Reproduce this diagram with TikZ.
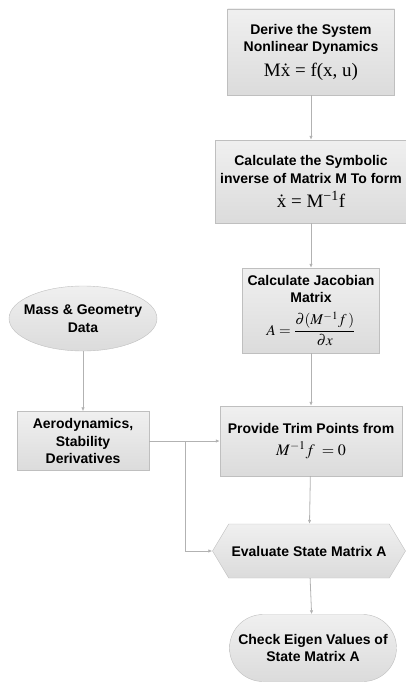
\documentclass[tikz,border=0pt]{standalone}
\usepackage{mathptmx}
\usepackage[no-math]{fontspec}
\setmainfont{Liberation Sans}
\newfontfamily\eqfont{Liberation Serif}
\usetikzlibrary{arrows.meta,shapes.geometric,shapes.misc,shapes.symbols}

\begin{document}
\begin{tikzpicture}[x = 1pt, y = 1pt,
		box/.style = {draw=gray!50, top color=gray!12, bottom color=gray!28, align=center,
			inner sep=0pt, font=\fontsize{14}{17.5}\selectfont\bfseries},
		eq/.style = {font=\eqfont\mdseries\fontsize{19}{19}\selectfont},
		flow/.style = {draw=gray!60, line width=.8pt, -{Latex[length=4pt,width=3.5pt]}}]
		\useasboundingbox (0,0) rectangle (406,-682);
		% right column
		\node [box, minimum width=167, minimum height=86] (derive) at (311,-52)
			{Derive the System\\Nonlinear Dynamics\\[7pt]
			{\eqfont\mdseries\fontsize{19}{19}\selectfont Mẋ = f(x, u)}};
		\node [box, minimum width=192, minimum height=83] (symb) at (311,-181.5)
			{Calculate the Symbolic\\inverse of Matrix M To form\\[7pt]
			{\eqfont\mdseries\fontsize{19}{19}\selectfont ẋ = M\textsuperscript{−1}f}};
		\node [box, minimum width=137, minimum height=85] (jac) at (311,-310.5)
			{Calculate Jacobian\\Matrix\\[8pt]
			{\fontsize{15}{15}\selectfont$\displaystyle A = \frac{\partial(M^{-1}f\,)}{\partial x}$}};
		\node [box, minimum width=182, minimum height=70] (trim) at (311,-441)
			{Provide Trim Points from\\[5pt]
			{\fontsize{16}{16}\selectfont$M^{-1}f\; = 0$}};
		\node [box, signal, signal to=west and east, signal pointer angle=118,
			minimum width=193, minimum height=54] (eval) at (309,-551)
			{Evaluate State Matrix A};
		\node [box, rounded rectangle, minimum width=167, minimum height=67] (eigen) at (313,-648)
			{Check Eigen Values of\\State Matrix A};
		% left column
		\node [box, ellipse, inner xsep=-7pt, inner ysep=5pt, minimum width=148, minimum height=65]
			(mass) at (83,-318.5) {Mass \& Geometry\\Data};
		\node [box, minimum width=132, minimum height=59] (aero) at (83,-441)
			{Aerodynamics,\\Stability\\Derivatives};
		\coordinate (split) at (185,-441);
		% connectors
		\draw [flow] (derive) -- (symb);
		\draw [flow] (symb) -- (jac);
		\draw [flow] (jac) -- (trim);
		\draw [flow] (trim) -- (eval);
		\draw [flow] (eval) -- (eigen);
		\draw [flow] (mass) -- (aero);
		\draw [flow] (aero) -- (trim);
		\draw [flow] (split) |- (eval.west);
	\end{tikzpicture}
\end{document}
